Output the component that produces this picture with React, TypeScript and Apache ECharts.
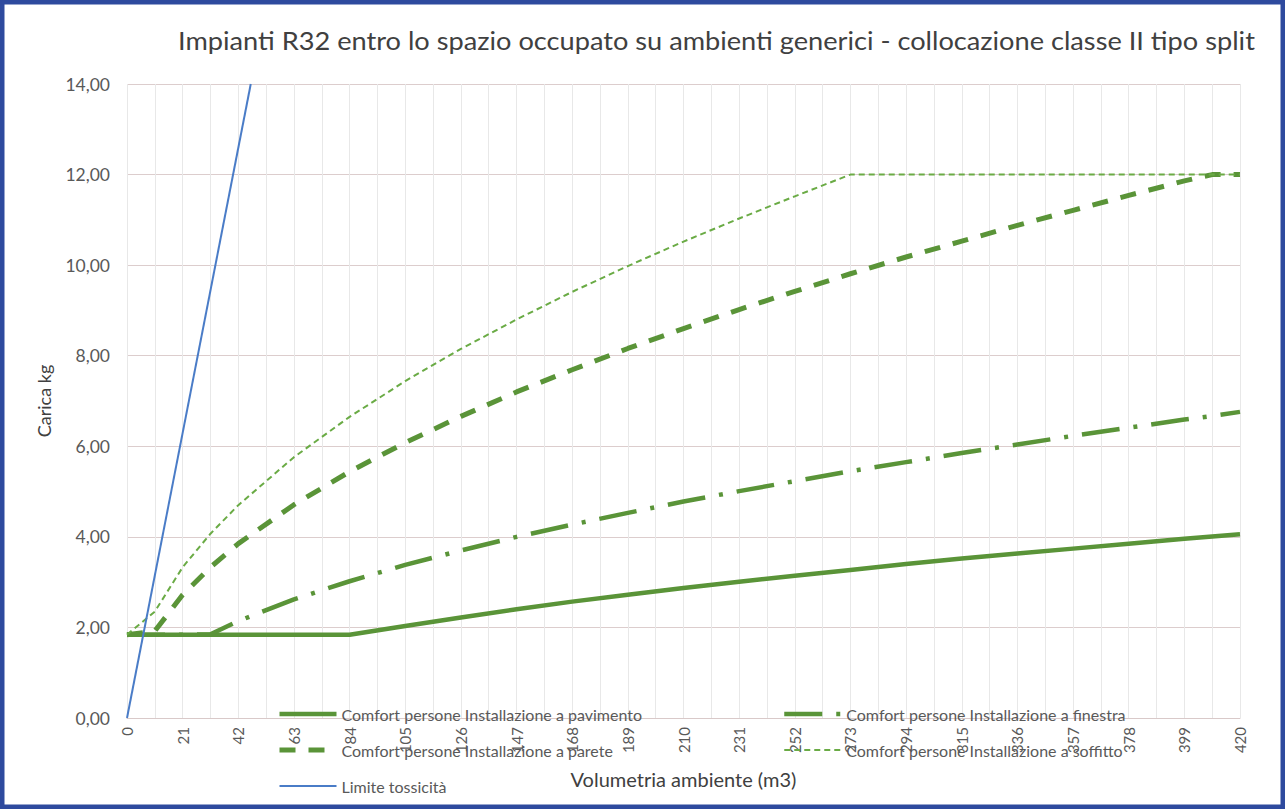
import React, { useEffect, useRef } from "react";
import * as echarts from "echarts";

const titleText =
  "Impianti R32 entro lo spazio occupato su ambienti generici - collocazione classe II tipo split";
const xAxisName = "Volumetria ambiente (m3)";
const yAxisName = "Carica kg";

const seriesNames = [
  "Comfort persone Installazione a pavimento",
  "Comfort persone Installazione a finestra",
  "Comfort persone Installazione a parete",
  "Comfort persone Installazione a soffitto",
  "Limite tossicità",
];

// volumes (m3)
const volumes = [
  0, 10.5, 21, 31.5, 42, 63, 84, 105, 126, 147, 168, 189, 210, 231, 252, 273,
  294, 315, 336, 357, 378, 399, 409.5, 420,
];

const pavimento = [
  1.84, 1.84, 1.84, 1.84, 1.84, 1.84, 1.84, 2.03, 2.22, 2.4, 2.57, 2.72, 2.87,
  3.01, 3.14, 3.27, 3.4, 3.52, 3.63, 3.74, 3.85, 3.96, 4.01, 4.06,
];
const finestra = [
  1.84, 1.84, 1.84, 1.85, 2.14, 2.62, 3.02, 3.38, 3.7, 4.0, 4.27, 4.53, 4.78,
  5.01, 5.23, 5.45, 5.65, 5.85, 6.04, 6.23, 6.41, 6.59, 6.67, 6.76,
];
const parete = [
  1.84, 1.92, 2.72, 3.33, 3.85, 4.71, 5.44, 6.08, 6.66, 7.2, 7.69, 8.16, 8.6,
  9.02, 9.42, 9.81, 10.18, 10.53, 10.88, 11.21, 11.54, 11.86, 12.0, 12.0,
];
const soffitto = [
  1.84, 2.35, 3.33, 4.07, 4.7, 5.76, 6.65, 7.44, 8.15, 8.8, 9.41, 9.98, 10.52,
  11.03, 11.52, 12.0, 12.0, 12.0, 12.0, 12.0, 12.0, 12.0, 12.0, 12.0,
];

const toxVolumes = [0, 46.7];
const toxValues = [0, 14];

const FONT = "Lato";

export default function App() {
  const ref = useRef<HTMLDivElement>(null);

  useEffect(() => {
    if (!ref.current) return;
    const chart = echarts.init(ref.current, null, { renderer: "svg" });
    const pair = (xs: number[], ys: number[]) => xs.map((x, i) => [x, ys[i]]);
    const green = "#5a9438";
    const lightGreen = "#6aab45";
    const legendCommon = {
      orient: "vertical",
      top: 701,
      itemWidth: 57,
      itemHeight: 18,
      itemGap: 20,
      itemStyle: { opacity: 0 },
      lineStyle: { width: "inherit", type: "inherit" },
      textStyle: { fontSize: 16, color: "#595959", fontFamily: FONT },
    };

    chart.setOption({
      animation: false,
      backgroundColor: "#ffffff",
      textStyle: { fontFamily: FONT },
      grid: { left: 127, right: 45, top: 84, bottom: 91 },
      graphic: [
        {
          type: "rect",
          shape: { x: 2, y: 2, width: 1281, height: 805 },
          style: { fill: "none", stroke: "#2e4a9e", lineWidth: 5 },
          z: 100,
        },
        {
          type: "text",
          x: 178,
          y: 28,
          scaleX: 1.087,
          style: {
            text: titleText,
            fontSize: 25,
            fontFamily: FONT,
            fill: "#404040",
          },
        },
      ],
      legend: [
        {
          ...legendCommon,
          data: [seriesNames[0], seriesNames[2], seriesNames[4]],
          left: 272,
        },
        {
          ...legendCommon,
          data: [seriesNames[1], seriesNames[3]],
          left: 777,
        },
      ],
      xAxis: {
        type: "value",
        min: 0,
        max: 420,
        interval: 21,
        name: xAxisName,
        nameLocation: "middle",
        nameGap: 51,
        nameTextStyle: { fontSize: 20, color: "#404040", fontFamily: FONT },
        axisLine: { show: true, lineStyle: { color: "#d9c9c9", width: 1 } },
        axisTick: { show: false },
        axisLabel: {
          rotate: 90,
          margin: 9,
          fontSize: 15,
          color: "#595959",
          fontFamily: FONT,
        },
        splitLine: { show: true, lineStyle: { color: "#e8e8e8", width: 1 } },
        minorTick: { show: false, splitNumber: 2 },
        minorSplitLine: { show: true, lineStyle: { color: "#e8e8e8", width: 1 } },
      },
      yAxis: {
        type: "value",
        min: 0,
        max: 14,
        interval: 2,
        name: yAxisName,
        nameLocation: "middle",
        nameGap: 74,
        nameRotate: 90,
        nameTextStyle: { fontSize: 18, color: "#404040", fontFamily: FONT },
        axisLine: { show: false },
        axisTick: { show: false },
        axisLabel: {
          margin: 17,
          fontSize: 17.5,
          color: "#595959",
          fontFamily: FONT,
          formatter: (v: number) => v.toFixed(2).replace(".", ","),
        },
        splitLine: { show: true, lineStyle: { color: "#dccdcd", width: 1 } },
      },
      series: [
        {
          name: seriesNames[0],
          type: "line",
          data: pair(volumes, pavimento),
          symbol: "none",
          lineStyle: { color: green, width: 4.5, type: "solid" },
          itemStyle: { color: green },
        },
        {
          name: seriesNames[1],
          type: "line",
          data: pair(volumes, finestra),
          symbol: "none",
          lineStyle: { color: green, width: 4.5, type: [38, 14, 4, 14] },
          itemStyle: { color: green },
        },
        {
          name: seriesNames[2],
          type: "line",
          data: pair(volumes, parete),
          symbol: "none",
          lineStyle: { color: green, width: 5, type: [16, 13] },
          itemStyle: { color: green },
        },
        {
          name: seriesNames[3],
          type: "line",
          data: pair(volumes, soffitto),
          symbol: "none",
          lineStyle: { color: lightGreen, width: 2, type: [6, 4] },
          itemStyle: { color: lightGreen },
        },
        {
          name: seriesNames[4],
          type: "line",
          data: pair(toxVolumes, toxValues),
          symbol: "none",
          lineStyle: { color: "#4a7cc7", width: 2 },
          itemStyle: { color: "#4a7cc7" },
        },
      ],
    });

    return () => chart.dispose();
  }, []);

  return (
    <div
      ref={ref}
      style={{ position: "fixed", left: 0, top: 0, width: 1285, height: 809 }}
    />
  );
}
